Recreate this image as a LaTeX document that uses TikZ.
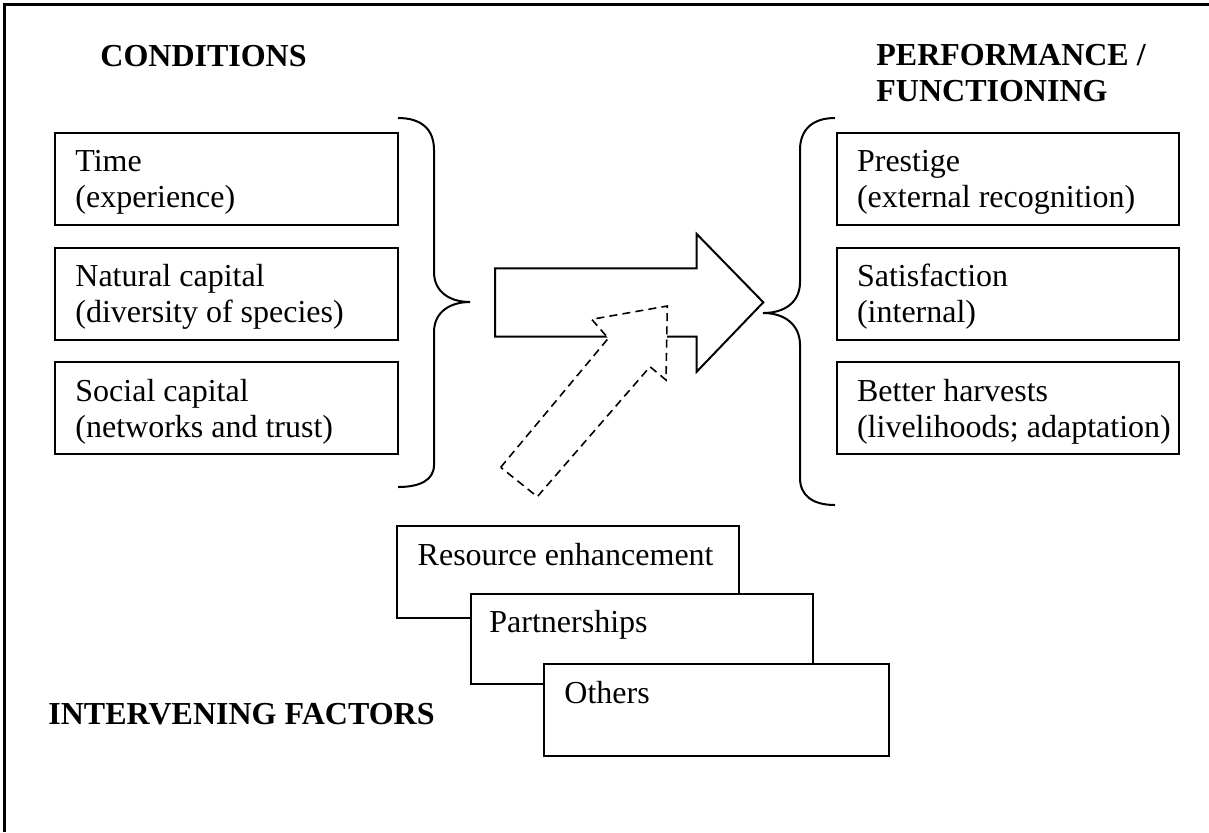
\documentclass[tikz,border=0pt]{standalone}
\usepackage{fontspec}
\setmainfont{Liberation Serif}
\begin{document}
\begin{tikzpicture}[x=0.5pt,y=-0.5pt,
  every node/.style={font=\fontsize{16}{18}\selectfont},
  box/.style={draw,line width=1pt,fill=white,minimum width=171.35pt,minimum height=46pt,inner sep=0pt},
  stackbox/.style={draw,line width=1pt,fill=white,minimum height=46pt,inner sep=0pt},
  label/.style={anchor=base west,inner sep=0pt},
  heading/.style={anchor=base west,inner sep=0pt,font=\fontsize{16}{18}\selectfont\bfseries},
  brace/.style={line width=1pt},
  bigarrow/.style={line width=1pt,fill=white,line join=miter},
  dasharrow/.style={line width=0.8pt,fill=white,dash pattern=on 4pt off 2.6pt}]
\useasboundingbox (0,0) rectangle (1209,832);

% page frame (top and left edges)
\draw[line width=1.5pt] (4,832) -- (4,4) -- (1209,4);

% headings
\node[heading] (hcond) at (100,66) {CONDITIONS};
\node[heading] (hperf) at (876,65) {\begin{tabular}[t]{@{}l@{}}PERFORMANCE /\\FUNCTIONING\end{tabular}};
\node[heading] (hint) at (48,724) {INTERVENING FACTORS};

% conditions
\node[box] (time) at (226.35,178.5) {};
\node[box] (natcap) at (226.35,293.5) {};
\node[box] (soccap) at (226.35,408.3) {};
\node[label] (ttime) at ([xshift=10.5pt,yshift=-20pt]time.north west) {\begin{tabular}[t]{@{}l@{}}Time\\(experience)\end{tabular}};
\node[label] (tnat) at ([xshift=10.5pt,yshift=-20pt]natcap.north west) {\begin{tabular}[t]{@{}l@{}}Natural capital\\(diversity of species)\end{tabular}};
\node[label] (tsoc) at ([xshift=10.5pt,yshift=-20pt]soccap.north west) {\begin{tabular}[t]{@{}l@{}}Social capital\\(networks and trust)\end{tabular}};

% performance / functioning
\node[box] (prest) at (1008,178.5) {};
\node[box] (satis) at (1008,293.5) {};
\node[box] (harv) at (1008,408.3) {};
\node[label] (tprest) at ([xshift=10.5pt,yshift=-20pt]prest.north west) {\begin{tabular}[t]{@{}l@{}}Prestige\\(external recognition)\end{tabular}};
\node[label] (tsatis) at ([xshift=10.5pt,yshift=-20pt]satis.north west) {\begin{tabular}[t]{@{}l@{}}Satisfaction\\(internal)\end{tabular}};
\node[label] (tharv) at ([xshift=10.5pt,yshift=-20pt]harv.north west) {\begin{tabular}[t]{@{}l@{}}Better harvests\\(livelihoods; adaptation)\end{tabular}};

% braces
\draw[brace] (398,118) .. controls (420,118) and (434,128) .. (434,150) -- (434,272)
  .. controls (434,292) and (450,302) .. (470,302)
  .. controls (450,302) and (434,312) .. (434,332) -- (434,465)
  .. controls (434,480) and (420,487) .. (398,487);
\draw[brace] (835,118) .. controls (812,118) and (800,130) .. (800,150) -- (800,282)
  .. controls (800,302) and (785,313) .. (763,313)
  .. controls (785,313) and (800,325) .. (800,345) -- (800,478)
  .. controls (800,495) and (812,505) .. (835,505);

% main block arrow
\draw[bigarrow] (495,268.3) -- (696.7,268.3) -- (696.7,234) -- (763.3,302.3)
  -- (696.7,371.7) -- (696.7,336.7) -- (495,336.7) -- cycle;

% intervening block arrow (dashed)
\draw[dasharrow] (500.7,467.3) -- (608.3,338.3) -- (591.7,319.3) -- (667.3,306)
  -- (666,380) -- (650,366.7) -- (537.3,496.7) -- cycle;

% intervening factors
\node[stackbox,minimum width=171pt] (res) at (568.3,571.85) {};
\node[stackbox,minimum width=171.3pt,minimum height=45.15pt] (part) at (642,639.15) {};
\node[stackbox,minimum width=172.5pt] (oth) at (716.5,710) {};
\node[label] (tres) at ([xshift=10.5pt,yshift=-20.3pt]res.north west) {Resource enhancement};
\node[label] (tpart) at ([xshift=9.65pt,yshift=-19.5pt]part.north west) {Partnerships};
\node[label] (toth) at ([xshift=10.5pt,yshift=-20pt]oth.north west) {Others};
\end{tikzpicture}
\end{document}
